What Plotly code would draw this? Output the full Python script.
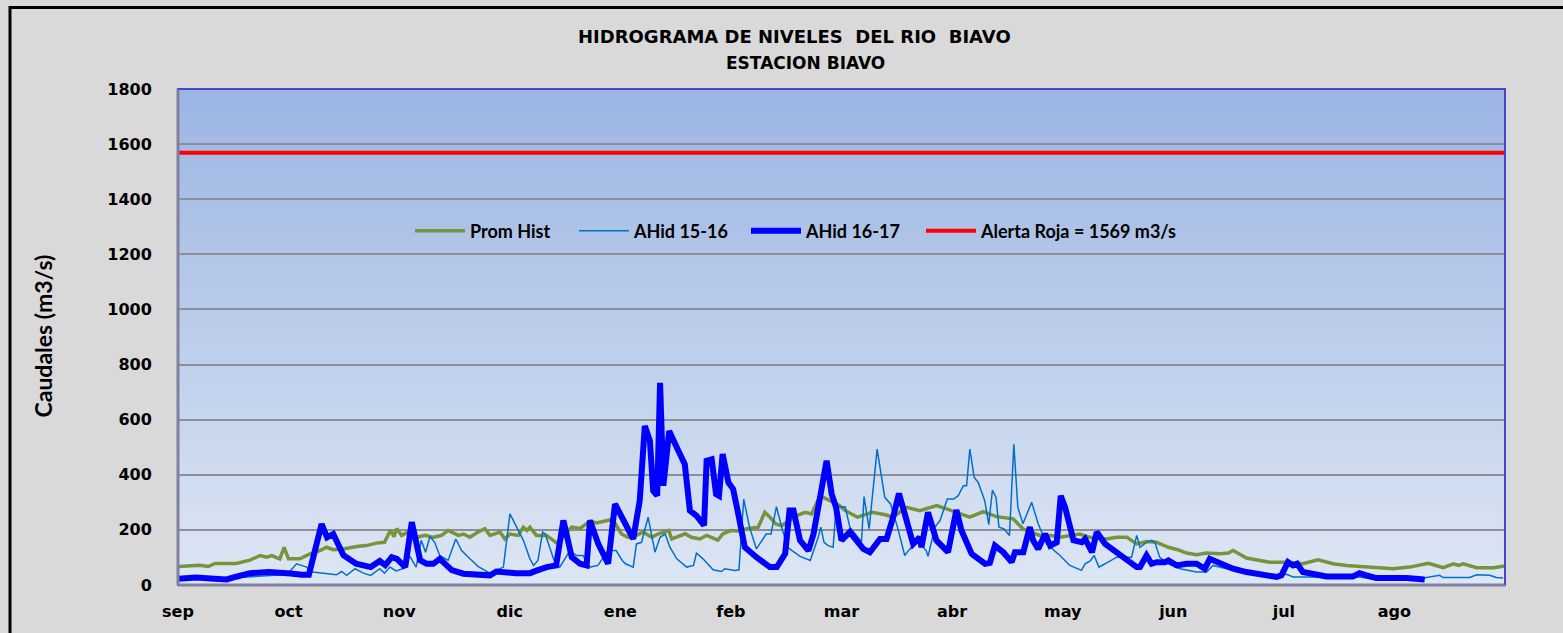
import plotly.graph_objects as go

# ---------------- data ----------------
month_labels = ["sep", "oct", "nov", "dic", "ene", "feb", "mar", "abr", "may", "jun", "jul", "ago"]
days_in_year = 365
y_ticks = [0, 200, 400, 600, 800, 1000, 1200, 1400, 1600, 1800]

prom_days = [0, 3.7, 6, 8.3, 10.2, 16, 19.8, 22.6, 24.4, 25.8, 28, 29.2, 30.4, 33.5, 36.3, 39, 40.9, 42.7,
             45.5, 49.1, 51.8, 54.6, 56.8, 58.5, 59.4, 60.2, 61.5, 63.3, 65.6, 68, 70.2, 72.5, 74.3, 77.1,
             78.5, 80.3, 82.5, 84.4, 85.8, 88.6, 89.9, 91.3, 93.6, 95, 96, 96.8, 98.6, 101.4, 103.3, 104.2,
             106.5, 108.3, 110.6, 113.3, 115.1, 117.4, 118.8, 120.2, 122, 123.8, 126.1, 127.9, 130.3, 132,
             135, 135.8, 138.1, 139.5, 141.2, 143.5, 145.4, 148.5, 149.9, 152.2, 154, 156.8, 159.6, 161.4,
             162.8, 164.4, 166, 168, 170.2, 172.5, 174.3, 176.6, 179.3, 182, 183.5, 186.9, 190.9, 194.6,
             196.6, 200.4, 204, 208.7, 211.4, 215.1, 217.8, 221.5, 225.1, 229.7, 232.4, 237, 239.9, 242.6,
             245.3, 248, 250.8, 255.4, 258.2, 261, 263.7, 266.4, 269.2, 272.4, 275, 277.4, 280.2, 282.9,
             286.6, 288.9, 290.2, 292, 293.9, 297.6, 300.3, 305, 309.4, 313.6, 317.7, 321.4, 325, 329.6,
             334.2, 338.8, 343.9, 348, 350.8, 352.2, 353.5, 357.2, 361.8, 365]
prom_vals = [67, 72, 72, 67, 78, 78, 90, 107, 101, 107, 95, 137, 95, 95, 113, 125, 137, 128,
             131, 140, 143, 152, 155, 200, 175, 205, 180, 192, 173, 180, 173, 180, 198, 180,
             185, 173, 192, 204, 180, 192, 167, 185, 180, 210, 198, 210, 180, 180, 162, 152,
             185, 210, 205, 232, 225, 232, 236, 225, 185, 173, 180, 192, 173, 185,
             198, 167, 180, 186, 173, 167, 180, 163, 186, 198, 196, 205, 210, 264,
             246, 222, 215, 234, 252, 264, 258, 324, 306, 288, 270, 246, 264, 255,
             246, 282, 270, 288, 276, 258, 246, 266, 248, 240, 204, 180, 180, 173,
             180, 185, 173, 167, 173, 173, 149, 158, 155, 137, 128, 116, 110, 116,
             113, 116, 125, 113, 98, 89, 83, 83, 77, 91, 77, 71, 67, 63,
             59, 65, 79, 63, 77, 71, 77, 63, 63, 69]

a1516_days = [0, 5, 10, 15, 20, 25, 30, 32.6, 34, 35.4, 37, 40, 43.6, 45, 46.4, 48.7, 51, 53, 55.5, 56.8,
              58.3, 60, 62, 63.8, 65.5, 66.9, 68.1, 69.3, 70.6, 72, 74.3, 76.4, 78, 80.3, 82.6, 85.8, 89.5,
              91.3, 93.6, 95, 96.8, 97.8, 99, 100.3, 101, 103.3, 105, 107.8, 109.6, 111.4, 113.3, 115.5,
              118.3, 120.5, 122.2, 123.1, 125.2, 126.1, 127.5, 129.3, 131.2, 132.6, 134, 135.3, 137.2,
              139.9, 141.8, 142.6, 144.4, 147.2, 149.5, 150.4, 153.2, 154.3, 155.6, 157.2, 159.1, 160.9,
              161.8, 163.1, 164.6, 166.3, 167.7, 168.9, 171.1, 173.9, 176.1, 176.8, 177.7, 178.8, 180.2,
              181, 183.5, 184.8, 186.2, 188, 188.7, 190.1, 192.3, 193.5, 194.4, 196, 197.9, 199.9, 201.3,
              203.1, 204.5, 205.8, 206.3, 208.2, 209.6, 211.6, 213.4, 214.6, 216, 216.9, 217.8, 219,
              220.1, 221.9, 223, 224, 225, 225.8, 227.2, 228.7, 229.9, 231, 232.4, 234.8, 236.6, 238.9,
              241, 242.6, 245.3, 248.5, 249.5, 250.9, 252, 253.3, 255, 258.2, 262.3, 263.7, 264.6, 266.4,
              267.8, 268.7, 270, 272.4, 275.6, 280.2, 282.9, 284.7, 288.4, 292, 297.6, 300.3, 304.9,
              306.7, 325, 329.6, 341.6, 343.4, 347, 348, 355.3, 357.2, 360.8, 362.6, 364.5]
a1516_vals = [30, 28, 25, 25, 30, 35, 38, 77, 71, 65, 47, 43, 37, 49, 35, 59, 43, 35, 59, 43,
              65, 51, 60, 104, 65, 162, 119, 176, 155, 107, 89, 167, 125, 95, 67, 43, 65,
              258, 198, 162, 95, 71, 89, 192, 185, 95, 65, 125, 107, 107, 65, 71,
              125, 125, 89, 77, 65, 149, 155, 246, 119, 173, 185, 137, 95,
              65, 71, 116, 95, 55, 49, 59, 53, 55, 312, 210, 131, 167,
              185, 185, 284, 198, 137, 125, 104, 89, 173, 210, 155, 143, 137,
              282, 284, 210, 185, 157, 321, 204, 493, 384, 318, 294, 210, 107, 131,
              155, 143, 125, 104, 210, 234, 312, 312, 324, 360, 360, 493, 390,
              372, 306, 219, 344, 318, 210, 204, 180, 511, 282, 222, 300, 222, 149,
              125, 107, 71, 53, 77, 87, 107, 65, 77, 101, 101, 180, 137, 155,
              162, 155, 101, 77, 59, 47, 47, 71, 59, 47, 41, 35, 39,
              29, 29, 19, 19, 27, 35, 27, 27, 37, 35, 27, 25]

a1617_days = [0, 5, 10, 13.4, 16, 19.8, 25, 28, 31, 34, 36, 39.5, 41, 42.7, 45.5, 49, 53, 55.5, 57, 58.8,
              60.2, 62.5, 64.3, 66.6, 68.4, 70.2, 72, 75.3, 78.5, 85.8, 87.6, 93, 96.8, 98.6, 101.4, 104,
              106, 108.3, 110.6, 112.4, 113.3, 115.6, 118.3, 120.2, 122, 125.2, 127, 128.4, 129.8, 130.7,
              131.8, 132.6, 133.5, 135.1, 137.2, 139.4, 140.8, 142.6, 144.7, 145.4, 146.8, 148, 148.8,
              149.8, 151.4, 152.7, 154.1, 155.9, 159.1, 162.8, 164.7, 167, 168.2, 169.3, 171.1, 173.4,
              174.8, 176.1, 178.4, 179.8, 181, 182.5, 184.8, 188.5, 190.3, 193.1, 194.9, 196.7, 198.3,
              199.9, 202.2, 204, 204.5, 206.3, 208.6, 211.8, 214.1, 215.5, 218.3, 222, 223.3, 224.7, 227,
              229.3, 230.2, 232.5, 234.3, 235.2, 236.6, 238.5, 239.9, 241.7, 242.8, 244, 246.3, 248.6,
              249.5, 251.4, 252.7, 255, 258.2, 261, 263.7, 264.6, 266.4, 267.8, 269.2, 271.5, 272.4,
              274.7, 277.4, 280.2, 282.4, 283.8, 286.6, 290.2, 293.9, 297.6, 302.2, 303.5, 305.3, 306.7,
              307.8, 309.4, 312.2, 315.9, 323.2, 325, 326.9, 329.6, 337.9, 342.9]
a1617_vals = [23, 27, 23, 20, 30, 43, 47, 47, 42, 37, 37, 221, 173, 185, 108, 77, 65, 87, 72, 101,
              95, 65, 228, 90, 77, 77, 95, 54, 41, 35, 49, 43, 43, 52, 65, 71,
              234, 101, 77, 71, 234, 149, 77, 294, 246, 167, 306, 577, 523, 342,
              324, 734, 360, 559, 499, 438, 270, 252, 216, 451, 456, 330, 324,
              475, 372, 348, 258, 137, 101, 65, 65, 113, 270, 270, 162, 125,
              185, 282, 451, 330, 282, 162, 192, 131, 119, 167, 167, 246, 332,
              258, 149, 173, 137, 264, 162, 119, 272, 198, 113, 77, 80, 143, 119,
              83, 119, 119, 210, 162, 131, 185, 143, 155, 324, 282, 162, 155,
              167, 119, 192, 149, 119, 95, 65, 65, 107, 77, 83, 83, 89,
              71, 77, 77, 59, 95, 77, 59, 47, 39, 29, 35, 83, 71,
              77, 47, 39, 31, 31, 43, 35, 25, 25, 20]

alerta_value = 1569
alerta_days = [0, 365]

# ---------------- figure ----------------
W, H = 1563, 633
ML, MR, MT, MB = 178, 58, 89, 45
plot_w = W - ML - MR
plot_h = H - MT - MB

def px_x(px):
    return (px - ML) / plot_w

def px_y(py):
    return (H - MB - py) / plot_h

fig = go.Figure()

fig.add_trace(go.Scatter(x=prom_days, y=prom_vals, mode="lines", name="Prom Hist",
                         line=dict(color="#77933C", width=3.5), legend="legend"))
fig.add_trace(go.Scatter(x=a1516_days, y=a1516_vals, mode="lines", name="AHid 15-16",
                         line=dict(color="#0070C8", width=1.5), legend="legend2"))
fig.add_trace(go.Scatter(x=a1617_days, y=a1617_vals, mode="lines", name="AHid 16-17",
                         line=dict(color="#0000FF", width=6), legend="legend3"))
fig.add_trace(go.Scatter(x=alerta_days, y=[alerta_value] * len(alerta_days), mode="lines",
                         name="Alerta Roja = 1569 m3/s",
                         line=dict(color="#FF0000", width=4), legend="legend4"))

# gradient background of plot area
shapes = []
n = 60
top = (155, 181, 227)
bot = (222, 230, 243)
for i in range(n):
    t = (i + 0.5) / n
    c = tuple(int(round(bot[k] + (top[k] - bot[k]) * t)) for k in range(3))
    shapes.append(dict(type="rect", xref="paper", yref="paper", x0=0, x1=1,
                       y0=i / n, y1=min(1.0, (i + 1) / n + 0.004), line=dict(width=0),
                       fillcolor="rgb(%d,%d,%d)" % c, layer="below"))
# plot-area frame
shapes.append(dict(type="rect", xref="paper", yref="paper", x0=0, x1=1, y0=0, y1=1,
                   line=dict(color="#4545CC", width=2), layer="above"))
shapes.append(dict(type="line", xref="paper", yref="paper", x0=0, x1=0, y0=0, y1=1,
                   line=dict(color="#8080A0", width=3), layer="above"))
shapes.append(dict(type="line", xref="paper", yref="paper", x0=0, x1=1, y0=0, y1=0,
                   line=dict(color="#8080A0", width=3), layer="above"))
# outer chart border
shapes.append(dict(type="rect", xref="paper", yref="paper",
                   x0=px_x(10), x1=px_x(1575), y0=px_y(650), y1=px_y(7),
                   line=dict(color="black", width=3), layer="above"))

tick_font = dict(family="DejaVu Sans", size=16, color="black", weight="bold")
legend_font = dict(family="Lato", size=18, color="black", weight="bold")

legend_common = dict(orientation="h", bgcolor="rgba(0,0,0,0)", font=legend_font,
                     yanchor="middle", xanchor="left", itemwidth=50,
                     y=px_y(232), borderwidth=0)

fig.update_layout(
    width=W, height=H,
    margin=dict(l=ML, r=MR, t=MT, b=MB, pad=0),
    paper_bgcolor="#D9D9D9",
    plot_bgcolor="rgb(222,230,243)",
    font=dict(family="DejaVu Sans", color="black"),
    shapes=shapes,
    showlegend=True,
    legend=dict(legend_common, x=px_x(410)),
    legend2=dict(legend_common, x=px_x(574)),
    legend3=dict(legend_common, x=px_x(746)),
    legend4=dict(legend_common, x=px_x(921)),
    xaxis=dict(range=[0, days_in_year], showgrid=False, zeroline=False,
               tickmode="array",
               tickvals=[i * days_in_year / 12 for i in range(12)],
               ticktext=month_labels,
               ticks="outside", ticklen=12, tickcolor="rgba(0,0,0,0)",
               tickfont=tick_font, showline=False),
    yaxis=dict(range=[0, 1800], tickmode="array", tickvals=y_ticks,
               ticktext=[str(v) for v in y_ticks],
               showgrid=True, gridcolor="#8E8E98", gridwidth=1.5, zeroline=False,
               ticks="outside", ticklen=22, tickcolor="rgba(0,0,0,0)",
               tickfont=tick_font, showline=False),
    annotations=[
        dict(text="HIDROGRAMA DE NIVELES\u00a0\u00a0DEL RIO\u00a0\u00a0BIAVO", xref="paper", yref="paper",
             x=px_x(794), y=px_y(36), showarrow=False, xanchor="center", yanchor="middle",
             font=dict(family="DejaVu Sans", size=18, color="black", weight="bold")),
        dict(text="ESTACION BIAVO", xref="paper", yref="paper",
             x=px_x(805), y=px_y(63), showarrow=False, xanchor="center", yanchor="middle",
             font=dict(family="DejaVu Sans", size=17, color="black", weight="bold")),
        dict(text="Caudales (m3/s)", xref="paper", yref="paper", textangle=-90,
             x=px_x(43), y=px_y(338), showarrow=False, xanchor="center", yanchor="middle",
             font=dict(family="Lato", size=23, color="black", weight="bold")),
    ],
)

fig.write_html("out.html", config={"displayModeBar": False},
               post_script="document.body.style.margin='0';document.body.style.overflow='hidden';")
